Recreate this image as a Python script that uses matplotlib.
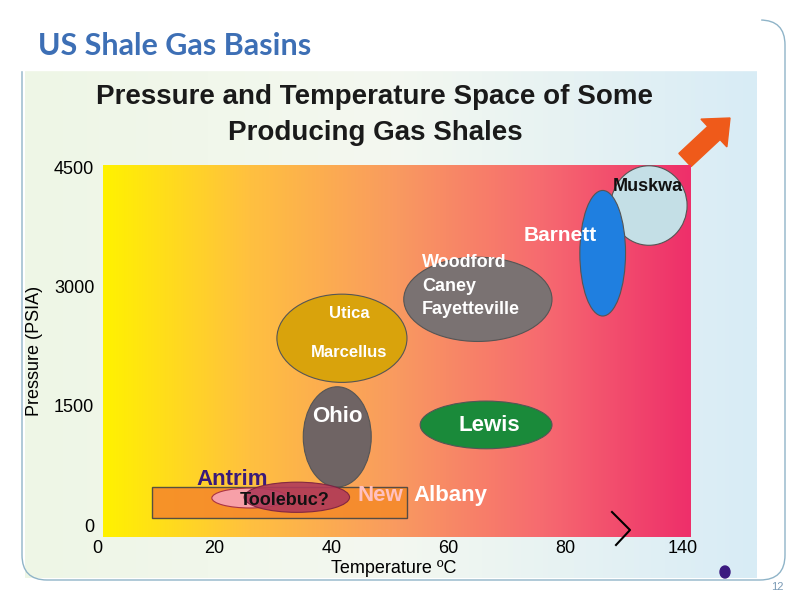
import numpy as np
import matplotlib.pyplot as plt
from matplotlib.patches import Ellipse, Rectangle, FancyBboxPatch, FancyArrow
from matplotlib.colors import LinearSegmentedColormap

plt.rcParams['font.family'] = ['Liberation Sans', 'DejaVu Sans']

# Datos (temperatura en escala del eje, presión en PSIA)
basins = ['Muskwa', 'Barnett', 'Woodford', 'Utica', 'Ohio', 'Lewis']
centro_x = [94.2, 86.3, 65.0, 41.8, 41.0, 66.4]
centro_y = [4020, 3420, 2840, 2350, 1110, 1260]
ancho = [13.0, 7.8, 25.3, 22.2, 11.6, 22.5]
alto = [1000, 1580, 1060, 1110, 1260, 600]
colores = ['#c4dfe6', '#1f7fe0', '#7a7272', '#d9a30c', '#6f6464', '#1a8a3a']

xticks = [0, 20, 40, 60, 80, 100]
xticklabels = ['0', '20', '40', '60', '80', '140']
yticks = [0, 1500, 3000, 4500]

fig = plt.figure(figsize=(8, 6), dpi=100)
fig.patch.set_facecolor('white')

# fondo de la diapositiva
bg = fig.add_axes([0, 0, 1, 1], zorder=-10)
bg.set_xlim(0, 800); bg.set_ylim(600, 0); bg.axis('off')
grad = np.linspace(0, 1, 256).reshape(1, -1)
cm_bg = LinearSegmentedColormap.from_list('bg', ['#eef6e6', '#f4f8f0', '#d8ecf6'])
bg.imshow(grad, cmap=cm_bg, extent=[25, 757, 578, 70], aspect='auto')
bg.add_patch(FancyBboxPatch((22, 20), 763, 560, boxstyle='round,pad=0,rounding_size=25',
                            fill=False, ec='#8fb4c8', lw=1))
bg.add_patch(Rectangle((20, 0), 740, 70, color='white'))
bg.text(38, 55, 'US Shale Gas Basins', color='#3d6fb5', fontsize=22, fontweight='bold',
        family=['Lato', 'DejaVu Sans'])
bg.text(375, 97, 'Pressure and Temperature Space of Some', ha='center', va='center',
        fontsize=20, fontweight='bold', color='#1a1a1a')
bg.text(375, 133, 'Producing Gas Shales', ha='center', va='center',
        fontsize=20, fontweight='bold', color='#1a1a1a')
bg.add_patch(FancyArrow(685, 160, 45, -42, width=18, head_width=38, head_length=22,
                        color='#ef5a1a', length_includes_head=True))
bg.add_patch(Ellipse((725, 572), 10, 12, color='#3b1a80'))
bg.text(784, 590, '12', color='#7a9ab5', fontsize=8, ha='right')

ax = fig.add_axes([97/800, 63/600, 593/800, 372/600])
ax.set_facecolor('none')
ax.set_xlim(0, 101.2)
ax.set_ylim(-150, 4530)
cm_plot = LinearSegmentedColormap.from_list('pt', ['#fff200', '#ffc040', '#f99a60', '#f66a70', '#ee2f6a'])
ax.imshow(grad, cmap=cm_plot, extent=[1, 101.2, 4530, -150], aspect='auto', zorder=0)
ax.set_xticks(xticks, xticklabels, fontsize=13)
ax.set_yticks(yticks, [str(v) for v in yticks], fontsize=13)
ax.tick_params(length=0, pad=2)
for s in ax.spines.values():
    s.set_visible(False)
ax.set_xlabel('Temperature ºC', fontsize=13, labelpad=2)
ax.set_ylabel('Pressure (PSIA)', fontsize=13, labelpad=8)

for cx, cy, w, h, c in zip(centro_x, centro_y, ancho, alto, colores):
    ax.add_patch(Ellipse((cx, cy), w, h, fc=c, ec='#555555', lw=0.8, zorder=2))

ax.add_patch(Rectangle((9.4, 90), 43.5, 390, fc='#f58a2a', ec='#444444', lw=1, zorder=2, alpha=0.9))
ax.add_patch(Ellipse((26.1, 340), 13, 250, fc='#f7a0a8', ec='#aa3344', lw=0.8, zorder=3))
ax.add_patch(Ellipse((34.1, 350), 18, 380, fc='#b03a5a', ec='#7a2040', lw=0.8, zorder=3, alpha=0.9))

lab = dict(fontweight='bold', zorder=5)
ax.text(94.0, 4200, 'Muskwa', fontsize=13, ha='center', color='#111111', **lab)
ax.text(79.0, 3580, 'Barnett', fontsize=15, ha='center', color='white', **lab)
ax.text(55.5, 3250, 'Woodford', fontsize=13, color='white', **lab)
ax.text(55.5, 2950, 'Caney', fontsize=13, color='white', **lab)
ax.text(55.5, 2650, 'Fayetteville', fontsize=13, color='white', **lab)
ax.text(43.0, 2600, 'Utica', fontsize=12, ha='center', color='white', **lab)
ax.text(43.0, 2120, 'Marcellus', fontsize=12, ha='center', color='white', **lab)
ax.text(41.0, 1300, 'Ohio', fontsize=16, ha='center', color='white', **lab)
ax.text(67.0, 1250, 'Lewis', fontsize=16, ha='center', va='center', color='white', **lab)
ax.text(17.0, 500, 'Antrim', fontsize=16, color='#3a1a7a', **lab)
ax.text(32.0, 250, 'Toolebuc?', fontsize=13, ha='center', color='#111111', **lab)
ax.text(44.5, 300, 'New', fontsize=16, color='#ffc0c0', **lab)
ax.text(54.0, 300, 'Albany', fontsize=16, color='white', **lab)

# capa superior para el símbolo ">" que cruza el borde del gráfico
top = fig.add_axes([0, 0, 1, 1], zorder=20)
top.set_xlim(0, 800); top.set_ylim(600, 0); top.axis('off')
top.plot([612, 630, 616], [512, 530, 545], color='black', lw=1.5)

fig.savefig('out.png', dpi=100)
